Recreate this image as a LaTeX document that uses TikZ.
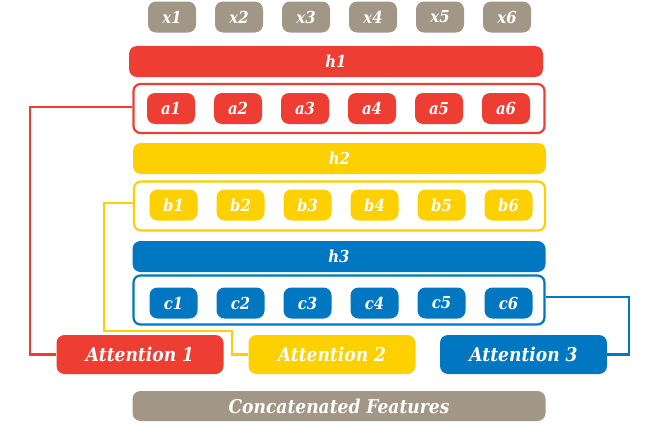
\documentclass[tikz,border=0pt]{standalone}
\usepackage{fontspec}
\setmainfont{DejaVu Serif Condensed}
\definecolor{attred}{RGB}{238,62,51}
\definecolor{attyellow}{RGB}{253,208,0}
\definecolor{attblue}{RGB}{0,119,192}
\definecolor{attgrey}{RGB}{162,151,134}
\begin{document}
\begin{tikzpicture}[x=1pt, y=-1pt,
	tokbox/.style={rounded corners=8pt, minimum width=48pt, minimum height=31pt, inner sep=0pt, text=white, font=\bfseries\itshape\fontsize{16.5}{17}\selectfont},
	barbox/.style={rounded corners=8pt, minimum width=413pt, minimum height=31pt, inner sep=0pt, text=white, font=\bfseries\itshape\fontsize{16.5}{17}\selectfont},
	rowbox/.style={draw, line width=2.2pt, rounded corners=7pt, fill=white, minimum width=411pt, minimum height=49pt, inner sep=0pt},
	attbox/.style={rounded corners=8pt, minimum width=167pt, minimum height=39pt, inner sep=0pt, text=white, font=\bfseries\itshape\fontsize{19}{20}\selectfont},
	link/.style={line width=2.2pt}]
	\useasboundingbox (0,0) rectangle (659,439);

	% inputs and first head
	\foreach \i in {1,...,6}
		\node[tokbox, fill=attgrey] (x\i) at ({172+67*(\i-1)},17) {x\i};
	\node[barbox, fill=attred, minimum width=414pt] (h1) at (336,61.5) {h1};
	\node[rowbox, draw=attred] (fa) at (339,108.5) {};
	\foreach \i in {1,...,6}
		\node[tokbox, fill=attred] (a\i) at ({171+67*(\i-1)},108.5) {a\i};

	% second head
	\node[barbox, fill=attyellow] (h2) at (339.5,158.5) {h2};
	\node[rowbox, draw=attyellow] (fb) at (339.5,206) {};
	\foreach \i in {1,...,6}
		\node[tokbox, fill=attyellow] (b\i) at ({173.5+67*(\i-1)},205) {b\i};

	% third head
	\node[barbox, fill=attblue] (h3) at (339,256.5) {h3};
	\node[rowbox, draw=attblue] (fc) at (339,300) {};
	\foreach \i in {1,...,6}
		\node[tokbox, fill=attblue] (c\i) at ({173.5+67*(\i-1)},303) {c\i};

	% attention outputs
	\node[attbox, fill=attred] (att1) at (140,354.5) {Attention 1};
	\node[attbox, fill=attyellow] (att2) at (332,354.5) {Attention 2};
	\node[attbox, fill=attblue] (att3) at (523.5,354.5) {Attention 3};
	\node[barbox, fill=attgrey, minimum height=30pt, font=\bfseries\itshape\fontsize{19}{20}\selectfont] (cat) at (339,406) {Concatenated Features};

	\draw[link, attred] ([yshift=1.5pt]fa.west) -| ([xshift=-26pt]att1.west) -- (att1.west);
	\draw[link, attyellow] ([yshift=3pt]fb.west) -| (104,331) -| ([xshift=-16pt]att2.west) -- (att2.west);
	\draw[link, attblue] ([yshift=3pt]fc.east) -| ([xshift=22pt]att3.east) -- (att3.east);
\end{tikzpicture}
\end{document}
